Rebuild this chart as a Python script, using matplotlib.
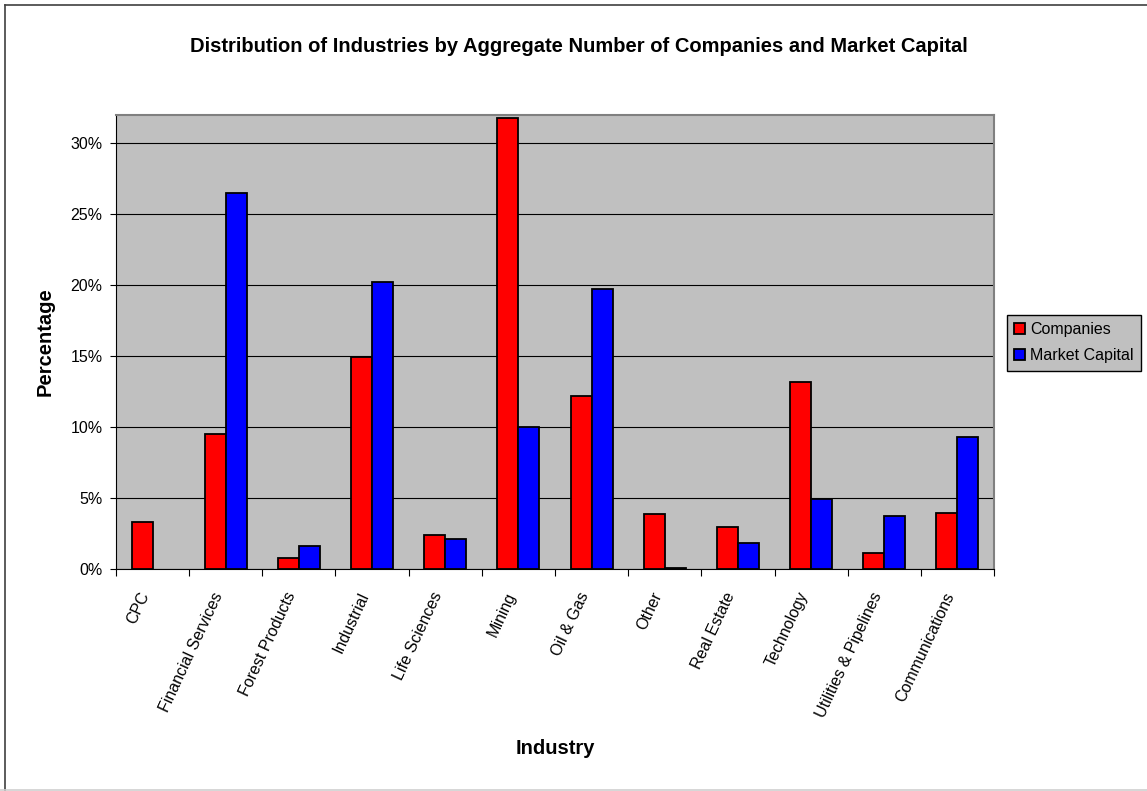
import matplotlib.pyplot as plt
import numpy as np
from matplotlib.ticker import PercentFormatter, FixedLocator
from matplotlib.lines import Line2D
from matplotlib.patches import Patch

plt.rcParams['font.family'] = ['Liberation Sans', 'DejaVu Sans']

industries = ['CPC', 'Financial Services', 'Forest Products', 'Industrial',
              'Life Sciences', 'Mining', 'Oil & Gas', 'Other', 'Real Estate',
              'Technology', 'Utilities & Pipelines', 'Communications']
companies = [0.0334, 0.0954, 0.0078, 0.1496, 0.0238, 0.3179, 0.1220,
             0.0386, 0.0294, 0.1321, 0.0113, 0.0393]
market_capital = [0.0, 0.2647, 0.0160, 0.2025, 0.0210, 0.1001, 0.1974,
                  0.0007, 0.0186, 0.0492, 0.0372, 0.0930]
series_colors = ['#FF0000', '#0000FF']
series_names = ['Companies', 'Market Capital']

W, H = 1147, 791
fig = plt.figure(figsize=(W / 100, H / 100), dpi=100)
ax = fig.add_axes([116 / W, 1 - 569 / H, (994 - 116) / W, (569 - 115) / H])
ax.set_facecolor('#C0C0C0')

x = np.arange(len(industries))
bw = 0.287
b1 = ax.bar(x - bw / 2, companies, bw, color=series_colors[0], edgecolor='black',
            linewidth=1.3, zorder=3)
b2 = ax.bar(x + bw / 2, market_capital, bw, color=series_colors[1], edgecolor='black',
            linewidth=1.3, zorder=3)
# empty bars should not leave an outline on the axis
for bar in list(b1) + list(b2):
    if bar.get_height() == 0:
        bar.set_visible(False)

ax.set_xlim(-0.5, len(industries) - 0.5)
ax.set_ylim(0, 0.32)
ax.set_yticks(np.arange(0, 0.31, 0.05))
ax.yaxis.set_major_formatter(PercentFormatter(1.0, decimals=0))
ax.grid(axis='y', color='black', linewidth=0.8, zorder=1)
ax.set_axisbelow(True)

# boundaries get the tick marks, centres get the labels
ax.xaxis.set_major_locator(FixedLocator(np.arange(-0.5, len(industries), 1.0)))
ax.xaxis.set_minor_locator(FixedLocator(x))
ax.set_xticklabels([], minor=False)
ax.set_xticklabels(industries, minor=True, rotation=65, ha='right', va='top',
                   fontsize=11.5)
ax.tick_params(axis='x', which='major', length=5, direction='out', width=0.8)
ax.tick_params(axis='x', which='minor', length=0, pad=15)
ax.tick_params(axis='y', length=4.3, direction='out', width=0.8, pad=5.5,
               labelsize=11.5)

for side in ['top', 'right']:
    ax.spines[side].set_color('#808080')
    ax.spines[side].set_linewidth(1.5)
ax.spines['left'].set_linewidth(0.8)
ax.spines['bottom'].set_linewidth(0.8)

fig.text(579 / W, 1 - 47 / H,
         'Distribution of Industries by Aggregate Number of Companies and Market Capital',
         ha='center', va='center', fontsize=14.5, fontweight='bold')
fig.text(45 / W, 1 - 342 / H, 'Percentage', rotation=90, ha='center',
         va='center', fontsize=14.5, fontweight='bold')
fig.text(555 / W, 1 - 748 / H, 'Industry', ha='center', va='center',
         fontsize=14.5, fontweight='bold')

handles = [Patch(facecolor=c, edgecolor='black', linewidth=1.3) for c in series_colors]
leg = fig.legend(handles, series_names, loc='upper left',
                 bbox_to_anchor=(1007 / W, 1 - 315 / H),
                 bbox_transform=fig.transFigure, fontsize=11.5, frameon=True,
                 fancybox=False, borderaxespad=0, borderpad=0.45,
                 handlelength=0.7, handleheight=0.7, handletextpad=0.3,
                 labelspacing=0.7)
leg.get_frame().set_facecolor('#C0C0C0')
leg.get_frame().set_edgecolor('black')
leg.get_frame().set_linewidth(1.0)
leg.get_frame().set_alpha(1)

# chart area border
fig.add_artist(Line2D([5 / W, 5 / W], [1 - 5 / H, 0], transform=fig.transFigure,
                      color='#404040', linewidth=1.2))
fig.add_artist(Line2D([5 / W, 1], [1 - 5 / H, 1 - 5 / H], transform=fig.transFigure,
                      color='#404040', linewidth=1.2))
fig.add_artist(Line2D([0, 1], [1 - 789.5 / H, 1 - 789.5 / H], transform=fig.transFigure,
                      color='#D0D0D0', linewidth=1.2))

fig.savefig('out.png', dpi=100)
